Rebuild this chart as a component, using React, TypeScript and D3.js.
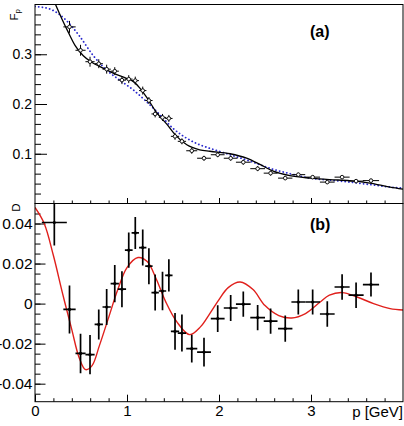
import { useEffect, useRef } from "react"
import * as d3 from "d3"

// bin centres (GeV) and half widths, shared by both panels
const pVals = [
  0.21, 0.375, 0.495, 0.598, 0.693, 0.779, 0.867, 0.945, 1.019, 1.09, 1.171, 1.238, 1.306, 1.386, 1.455, 1.522,
  1.597, 1.704, 1.837, 1.986, 2.127, 2.264, 2.42, 2.561, 2.72, 2.862, 3.018, 3.177, 3.338, 3.49, 3.652,
]
const pErr = [
  0.136, 0.067, 0.055, 0.05, 0.045, 0.045, 0.045, 0.045, 0.042, 0.04, 0.04, 0.04, 0.04, 0.04, 0.04, 0.045, 0.045,
  0.06, 0.075, 0.075, 0.075, 0.08, 0.08, 0.075, 0.078, 0.075, 0.08, 0.08, 0.082, 0.082, 0.088,
]

// panel (a): F_p, first bin is above the frame
const fpVals = [
  null, 0.355, 0.308, 0.285, 0.281, 0.27, 0.266, 0.248, 0.25, 0.247, 0.227, 0.207, 0.18, 0.173, 0.171, 0.135, 0.125,
  0.106, 0.091, 0.098, 0.091, 0.083, 0.07, 0.061, 0.051, 0.058, 0.053, 0.043, 0.053, 0.045, 0.046,
]
const fpErr = [
  null, 0.012, 0.011, 0.01, 0.009, 0.009, 0.008, 0.008, 0.008, 0.008, 0.008, 0.007, 0.007, 0.007, 0.007, 0.007, 0.006,
  0.006, 0.005, 0.005, 0.005, 0.005, 0.005, 0.005, 0.004, 0.004, 0.004, 0.004, 0.004, 0.004, 0.004,
]

// panel (b): D
const dVals = [
  0.0405, -0.0029, -0.0249, -0.0255, -0.0104, -0.0017, 0.01, 0.0072, 0.0267, 0.0353, 0.028, 0.0187, 0.0055, 0.0063,
  0.0141, -0.0139, -0.0147, -0.0225, -0.0242, -0.0075, -0.0022, -0.0003, -0.007, -0.0088, -0.0125, 0.0008, 0.0008,
  -0.0052, 0.0083, 0.0042, 0.0095,
]
const dErr = [
  0.0115, 0.012, 0.0099, 0.0098, 0.0075, 0.009, 0.0093, 0.009, 0.0088, 0.008, 0.009, 0.009, 0.009, 0.0096, 0.008,
  0.0092, 0.0092, 0.0069, 0.0072, 0.0067, 0.0065, 0.0063, 0.0063, 0.0063, 0.0065, 0.0063, 0.0063, 0.0064, 0.0064,
  0.0064, 0.006,
]

// fit curves
const fitP = [
  0.2, 0.29, 0.36, 0.435, 0.525, 0.616, 0.707, 0.85, 1.0, 1.07, 1.14, 1.23, 1.32, 1.43, 1.52, 1.65, 1.79, 1.9, 2.12,
  2.3, 2.45, 2.59, 2.77, 2.99, 3.2, 3.42, 3.64, 3.86, 4.0,
]
const fitF = [
  0.41, 0.372, 0.345, 0.318, 0.297, 0.284, 0.275, 0.262, 0.251, 0.245, 0.232, 0.209, 0.183, 0.16, 0.139, 0.118,
  0.108, 0.105, 0.1, 0.091, 0.078, 0.065, 0.056, 0.051, 0.048, 0.046, 0.041, 0.033, 0.029,
]
const smoothP = [
  0, 0.16, 0.34, 0.49, 0.63, 0.78, 0.92, 1.07, 1.21, 1.36, 1.5, 1.65, 1.79, 1.9, 2.12, 2.34, 2.55, 2.77, 2.99, 3.2,
  3.42, 3.64, 3.86, 4.0,
]
const smoothF = [
  0.396, 0.391, 0.368, 0.335, 0.298, 0.268, 0.248, 0.228, 0.205, 0.178, 0.151, 0.131, 0.118, 0.111, 0.098, 0.085,
  0.071, 0.06, 0.051, 0.047, 0.043, 0.038, 0.033, 0.031,
]
const oscP = [
  0, 0.1, 0.2, 0.3, 0.4, 0.48, 0.55, 0.62, 0.7, 0.8, 0.9, 1.0, 1.12, 1.22, 1.32, 1.42, 1.54, 1.68, 1.8, 1.9, 2.0,
  2.1, 2.23, 2.37, 2.5, 2.65, 2.79, 2.94, 3.1, 3.2, 3.34, 3.5, 3.68, 3.86, 4.0,
]
const oscD = [
  0.048, 0.04, 0.024, 0.005, -0.013, -0.027, -0.033, -0.031, -0.021, -0.007, 0.007, 0.018, 0.023, 0.021, 0.012, 0.001,
  -0.009, -0.0155, -0.0115, -0.005, 0.002, 0.008, 0.0108, 0.007, -0.001, -0.006, -0.0072, -0.005, 0.0008, 0.0042,
  0.0055, 0.0033, 0.0, -0.0025, -0.0032,
]

const fpTicks = [0.1, 0.2, 0.3]
const dTicks = [-0.04, -0.02, 0, 0.02, 0.04]
const pTicks = [0, 1, 2, 3]

const FONT = "Liberation Sans, Arial, Helvetica, sans-serif"

export default function App() {
  const svgRef = useRef<SVGSVGElement>(null)

  useEffect(() => {
    if (!svgRef.current) return
    const svg = d3.select(svgRef.current)
    svg.selectAll("*").remove()

    const left = 35
    const right = 403
    const topA = 4.5
    const mid = 203.5
    const bottom = 401.7

    const x = d3.scaleLinear().domain([0, 4]).range([left, right])
    const yA = d3.scaleLinear().domain([0, 0.4]).range([mid, topA])
    const yB = d3.scaleLinear().domain([-0.049, 0.05]).range([bottom, mid])

    const defs = svg.append("defs")
    defs.append("clipPath").attr("id", "clipA").append("rect")
      .attr("x", left).attr("y", topA).attr("width", right - left).attr("height", mid - topA)
    defs.append("clipPath").attr("id", "clipB").append("rect")
      .attr("x", left).attr("y", mid).attr("width", right - left).attr("height", bottom - mid)

    const styleAxis = (g: d3.Selection<SVGGElement, unknown, null, undefined>, size: number) => {
      g.select(".domain").remove()
      g.selectAll("line").attr("stroke", "#000")
      g.selectAll("text").attr("font-family", FONT).attr("font-size", size).attr("fill", "#000")
    }

    // ---- panel (a) ----
    const gA = svg.append("g")

    gA.append("g").attr("transform", `translate(${left},0)`)
      .call(d3.axisLeft(yA).tickValues(d3.range(0.02, 0.4, 0.02)).tickSize(-6).tickFormat(() => ""))
      .call((g) => styleAxis(g, 13))
    gA.append("g").attr("transform", `translate(${left},0)`)
      .call(d3.axisLeft(yA).tickValues(fpTicks).tickSize(-12).tickPadding(3).tickFormat((d) => String(d)))
      .call((g) => styleAxis(g, 14))
    gA.append("g").attr("transform", `translate(0,${mid})`)
      .call(d3.axisBottom(x).tickValues(d3.range(0.2, 4, 0.2)).tickSize(-3).tickFormat(() => ""))
      .call((g) => styleAxis(g, 13))
    gA.append("g").attr("transform", `translate(0,${mid})`)
      .call(d3.axisBottom(x).tickValues(pTicks.slice(1)).tickSize(-5.5).tickFormat(() => ""))
      .call((g) => styleAxis(g, 13))

    const lineA = d3.line<[number, number]>().x((d) => x(d[0])).y((d) => yA(d[1])).curve(d3.curveMonotoneX)
    const plotA = gA.append("g").attr("clip-path", "url(#clipA)")
    plotA.append("path")
      .attr("d", lineA(smoothP.map((p, i) => [p, smoothF[i]])))
      .attr("fill", "none").attr("stroke", "#2828cc").attr("stroke-width", 1.8)
      .attr("stroke-dasharray", "0.1,3.6").attr("stroke-linecap", "round")
    plotA.append("path")
      .attr("d", lineA(fitP.map((p, i) => [p, fitF[i]])))
      .attr("fill", "none").attr("stroke", "#000").attr("stroke-width", 1.3)

    const ptsA = pVals
      .map((p, i) => ({ p, pe: pErr[i], v: fpVals[i], e: fpErr[i] }))
      .filter((d) => d.v !== null) as { p: number; pe: number; v: number; e: number }[]
    const markA = plotA.append("g").selectAll("g").data(ptsA).join("g")
    markA.append("line")
      .attr("x1", (d) => x(d.p - d.pe)).attr("x2", (d) => x(d.p + d.pe))
      .attr("y1", (d) => yA(d.v)).attr("y2", (d) => yA(d.v))
      .attr("stroke", "#000").attr("stroke-width", 1)
    markA.append("line")
      .attr("x1", (d) => x(d.p)).attr("x2", (d) => x(d.p))
      .attr("y1", (d) => yA(d.v - d.e)).attr("y2", (d) => yA(d.v + d.e))
      .attr("stroke", "#000").attr("stroke-width", 1)
    markA.append("circle")
      .attr("cx", (d) => x(d.p)).attr("cy", (d) => yA(d.v)).attr("r", 1.8)
      .attr("fill", "#fff").attr("stroke", "#000").attr("stroke-width", 0.9)

    gA.append("rect")
      .attr("x", left).attr("y", topA).attr("width", right - left).attr("height", mid - topA)
      .attr("fill", "none").attr("stroke", "#000").attr("stroke-width", 1)

    gA.append("text")
      .attr("x", 310).attr("y", 36.5)
      .attr("font-family", FONT).attr("font-size", 16).attr("font-weight", "bold")
      .text("(a)")

    const fpLabel = gA.append("text")
      .attr("transform", "translate(17.5,9) rotate(-90)")
      .attr("text-anchor", "end")
      .attr("font-family", FONT).attr("font-size", 11.5)
    fpLabel.append("tspan").text("F")
    fpLabel.append("tspan").attr("font-size", 8).attr("dy", 2.5).text("p")

    // ---- panel (b) ----
    const gB = svg.append("g")

    gB.append("g").attr("transform", `translate(${left},0)`)
      .call(d3.axisLeft(yB).tickValues(d3.range(-0.045, 0.05, 0.005)).tickSize(-5.5).tickFormat(() => ""))
      .call((g) => styleAxis(g, 14))
    gB.append("g").attr("transform", `translate(${left},0)`)
      .call(d3.axisLeft(yB).tickValues(dTicks).tickSize(-10.5).tickPadding(2.5).tickFormat((d) => String(d)))
      .call((g) => styleAxis(g, 15.5))
    gB.append("g").attr("transform", `translate(0,${bottom})`)
      .call(d3.axisBottom(x).tickValues(d3.range(0.2, 4, 0.2)).tickSize(-3.5).tickFormat(() => ""))
      .call((g) => styleAxis(g, 15))
    gB.append("g").attr("transform", `translate(0,${bottom})`)
      .call(d3.axisBottom(x).tickValues(pTicks).tickSize(-7).tickPadding(4).tickFormat((d) => String(d)))
      .call((g) => styleAxis(g, 15))

    const lineB = d3.line<[number, number]>().x((d) => x(d[0])).y((d) => yB(d[1])).curve(d3.curveCatmullRom)
    const plotB = gB.append("g").attr("clip-path", "url(#clipB)")
    plotB.append("path")
      .attr("d", lineB(oscP.map((p, i) => [p, oscD[i]])))
      .attr("fill", "none").attr("stroke", "#e0201c").attr("stroke-width", 1.4)

    const ptsB = pVals.map((p, i) => ({ p, pe: pErr[i], v: dVals[i], e: dErr[i] }))
    const markB = plotB.append("g").selectAll("g").data(ptsB).join("g")
    markB.append("line")
      .attr("x1", (d) => x(d.p - d.pe)).attr("x2", (d) => x(d.p + d.pe))
      .attr("y1", (d) => yB(d.v)).attr("y2", (d) => yB(d.v))
      .attr("stroke", "#000").attr("stroke-width", 1.7)
    markB.append("line")
      .attr("x1", (d) => x(d.p)).attr("x2", (d) => x(d.p))
      .attr("y1", (d) => yB(d.v - d.e)).attr("y2", (d) => yB(d.v + d.e))
      .attr("stroke", "#000").attr("stroke-width", 1.7)
    markB.append("circle")
      .attr("cx", (d) => x(d.p)).attr("cy", (d) => yB(d.v)).attr("r", 1.6)
      .attr("fill", "#000")

    gB.append("rect")
      .attr("x", left).attr("y", mid).attr("width", right - left).attr("height", bottom - mid)
      .attr("fill", "none").attr("stroke", "#000").attr("stroke-width", 1)

    gB.append("text")
      .attr("x", 310).attr("y", 230)
      .attr("font-family", FONT).attr("font-size", 16).attr("font-weight", "bold")
      .text("(b)")

    gB.append("text")
      .attr("transform", `translate(20,${mid}) rotate(-90)`)
      .attr("text-anchor", "end")
      .attr("font-family", FONT).attr("font-size", 11.5)
      .text("D")

    gB.append("text")
      .attr("x", 403).attr("y", 417)
      .attr("text-anchor", "end")
      .attr("font-family", FONT).attr("font-size", 15)
      .text("p [GeV]")
  }, [])

  return (
    <svg
      ref={svgRef}
      width={404}
      height={426}
      style={{ position: "absolute", left: 0, top: 0, background: "#fff" }}
    />
  )
}
